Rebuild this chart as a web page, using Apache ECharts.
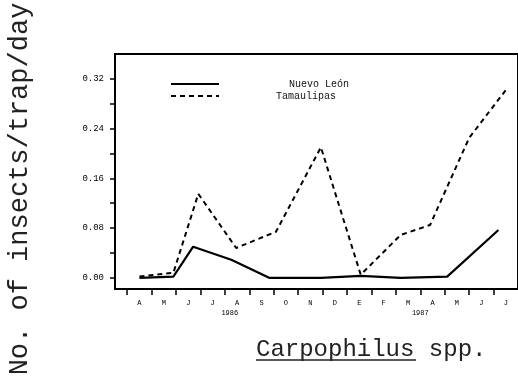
<!DOCTYPE html>
<html>
<head>
<meta charset="utf-8">
<script src="https://cdn.jsdelivr.net/npm/echarts@6/dist/echarts.min.js"></script>
<style>
  html, body { margin: 0; padding: 0; background: #fff; }
  #trapChart { width: 518px; height: 378px; }
</style>
</head>
<body>
<div id="trapChart"></div>
<script>
// month index 0 = April 1986 ... 15 = July 1987
const monthLabels = ['A', 'M', 'J', 'J', 'A', 'S', 'O', 'N', 'D', 'E', 'F', 'M', 'A', 'M', 'J', 'J'];
const monthTicks = [-0.5, 0.5, 1.5, 2.5, 3.5, 4.5, 5.5, 6.5, 7.5, 8.5, 9.5, 10.5, 11.5, 12.5, 13.5, 14.5];
const yearLabels = ['1986', '1987'];
const yearPos = [3.7, 11.5];
const yLabelValues = [0, 0.08, 0.16, 0.24, 0.32];
const yTickValues = [0, 0.04, 0.08, 0.12, 0.16, 0.20, 0.24, 0.28, 0.32];

const nlDates = [0, 1.39, 2.2, 3.76, 5.31, 7.43, 9.06, 10.7, 12.6, 14.7];
const nlValues = [0.0, 0.002, 0.05, 0.029, 0.0, 0.0, 0.003, 0.0, 0.002, 0.077];

const tamDates = [0, 1.39, 2.41, 3.96, 5.59, 7.43, 9.06, 10.7, 11.9, 13.5, 15.0];
const tamValues = [0.002, 0.008, 0.135, 0.048, 0.074, 0.21, 0.005, 0.069, 0.085, 0.225, 0.302];

const mono = 'Liberation Mono';

function pairs(xs, ys) {
  return xs.map((x, i) => [x, ys[i]]);
}

const chart = echarts.init(document.getElementById('trapChart'));
const option = {
  animation: false,
  backgroundColor: '#fff',
  grid: {
    left: 115,
    right: -2,
    top: 54,
    bottom: 89,
    show: true,
    borderColor: '#000',
    borderWidth: 2,
  },
  legend: {
    orient: 'vertical',
    left: 165,
    top: 73,
    itemWidth: 48,
    itemHeight: 8,
    itemGap: 0,
    itemStyle: { opacity: 0 },
    textStyle: { fontFamily: mono, fontSize: 10, lineHeight: 12, color: '#111' },
    data: [
      { name: 'Nuevo León', textStyle: { padding: [0, 0, 0, 65] } },
      { name: 'Tamaulipas', textStyle: { padding: [0, 0, 0, 52] } },
    ],
  },
  xAxis: [
    {
      type: 'value',
      min: -1,
      max: 15.5,
      axisLine: { onZero: false, lineStyle: { color: '#000', width: 2 } },
      axisTick: { customValues: monthTicks, length: 6, lineStyle: { color: '#000', width: 1.5 } },
      axisLabel: {
        customValues: [0, 1, 2, 3, 4, 5, 6, 7, 8, 9, 10, 11, 12, 13, 14, 15],
        formatter: (v) => monthLabels[Math.round(v)],
        fontFamily: mono,
        fontSize: 7,
        color: '#000',
        margin: 11,
      },
      splitLine: { show: false },
    },
    {
      type: 'value',
      position: 'bottom',
      min: -1,
      max: 15.5,
      axisLine: { show: false, onZero: false },
      axisTick: { show: false },
      axisLabel: {
        customValues: yearPos,
        formatter: (v) => yearLabels[yearPos.indexOf(v)],
        fontFamily: mono,
        fontSize: 7,
        color: '#000',
        margin: 21,
      },
      splitLine: { show: false },
    },
  ],
  yAxis: {
    type: 'value',
    min: -0.018,
    max: 0.36,
    axisLine: { show: true, onZero: false, lineStyle: { color: '#000', width: 2 } },
    axisTick: { show: true, customValues: yTickValues, length: 5, lineStyle: { color: '#000', width: 1.5 } },
    axisLabel: {
      customValues: yLabelValues,
      formatter: (v) => v.toFixed(2),
      fontFamily: mono,
      fontSize: 9,
      color: '#000',
      margin: 11,
    },
    splitLine: { show: false },
  },
  series: [
    {
      name: 'Nuevo León',
      type: 'line',
      symbol: 'none',
      data: pairs(nlDates, nlValues),
      lineStyle: { color: '#000', width: 2.2 },
      itemStyle: { color: '#000' },
    },
    {
      name: 'Tamaulipas',
      type: 'line',
      symbol: 'none',
      data: pairs(tamDates, tamValues),
      lineStyle: { color: '#000', width: 2, type: [5, 4] },
      itemStyle: { color: '#000' },
    },
  ],
  graphic: [
    {
      type: 'text',
      x: 20,
      y: 189,
      rotation: Math.PI / 2,
      style: {
        text: 'No. of insects/trap/day',
        font: '27px "Liberation Mono"',
        fill: '#222',
        textAlign: 'center',
        textVerticalAlign: 'middle',
      },
    },
    {
      type: 'text',
      x: 256,
      y: 350,
      style: {
        text: 'Carpophilus spp.',
        font: '24px "Liberation Mono"',
        fill: '#222',
        textAlign: 'left',
        textVerticalAlign: 'middle',
      },
    },
    {
      type: 'line',
      shape: { x1: 256, y1: 360, x2: 416, y2: 360 },
      style: { stroke: '#222', lineWidth: 1.5 },
    },
  ],
};
chart.setOption(option);
window.addEventListener('resize', () => {
  chart.resize();
});
</script>
</body>
</html>
